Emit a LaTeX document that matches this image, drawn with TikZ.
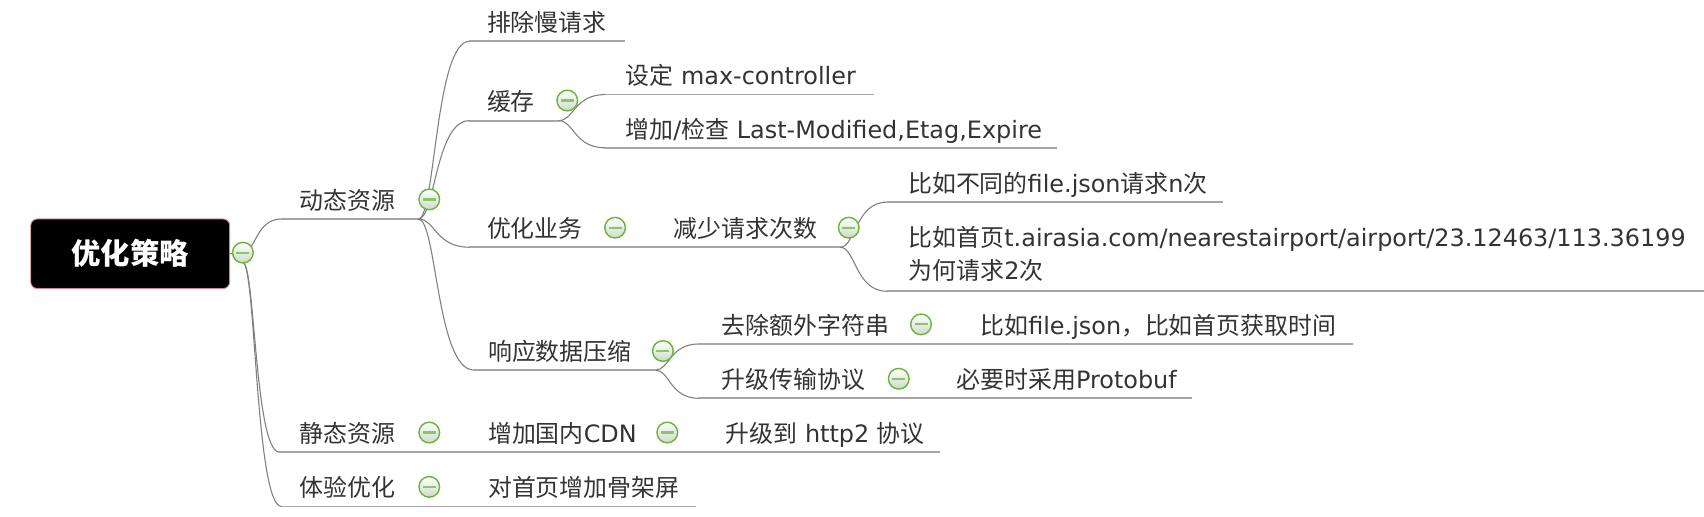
\documentclass[tikz,border=0pt]{standalone}
\usepackage{fontspec}
\setmainfont{DejaVu Sans}
\newfontfamily\cjk{Noto Sans CJK SC}
\usetikzlibrary{calc}
\definecolor{textc}{HTML}{333333}
\definecolor{ulc}{HTML}{A6A6A6}
\definecolor{connc}{HTML}{808080}
\definecolor{ringc}{HTML}{6AB43C}
\definecolor{dashc}{HTML}{86C866}
\definecolor{togbot}{HTML}{CFD9CA}
\definecolor{rootborder}{HTML}{D9848C}
\newcommand\curveconn[2]{\draw[conn] let \p1=(#1), \p2=(#2), \n1={0.33*(\x2-\x1)} in (\p1) .. controls (\x1+\n1,\y1) and (\x1+\n1,\y2) .. (\p2);}
\tikzset{
  txt/.style={anchor=base west, inner sep=0pt, text=textc, font=\fontsize{22}{30.5}\selectfont},
  uline/.style={draw=ulc, line width=1.6pt},
  conn/.style={draw=connc, line width=1pt},
  togg/.style={circle, minimum size=19pt, inner sep=0pt, draw=ringc, line width=1.3pt,
    top color=white, bottom color=togbot,
    path picture={\draw[dashc, line width=2pt] ($(path picture bounding box.center)+(-6,0)$) -- ($(path picture bounding box.center)+(6,0)$);}},
  rootbox/.style={draw=rootborder, fill=black, rounded corners=6pt, line width=0.8pt,
    minimum width=183pt, minimum height=64pt, inner sep=0pt, text=white,
    font=\fontsize{27}{27}\selectfont},
}
\begin{document}
\begin{tikzpicture}[x=1pt,y=-1pt]
\useasboundingbox (0,0) rectangle (1568,475);
% root
\node[rootbox] (root) at (119.8,233.5) {\cjk\bfseries 优化策略};
% coordinates of underlines
\coordinate (A1) at (259,201.5);   \coordinate (A2) at (385,201.5);
\coordinate (Aa1) at (432,38);     \coordinate (Aa2) at (575,38);
\coordinate (Ab1) at (432,111);    \coordinate (Ab2) at (514,111);
\coordinate (Aba1) at (557,87);    \coordinate (Aba2) at (804,87);
\coordinate (Abb1) at (557,136);   \coordinate (Abb2) at (973,136);
\coordinate (Ac1) at (432,227.5);  \coordinate (Ac2) at (558,227.5);
\coordinate (Aca1) at (603,227.5); \coordinate (Aca2) at (773,227.5);
\coordinate (Acaa1) at (816,186);  \coordinate (Acaa2) at (1125,186);
\coordinate (Acab1) at (816,268);  \coordinate (Acab2) at (1568,268);
\coordinate (Ad1) at (436,340.5);  \coordinate (Ad2) at (603,340.5);
\coordinate (Ada1) at (643,316.5); \coordinate (Ada2) at (840,316.5);
\coordinate (Adaa1) at (885,316.5);\coordinate (Adaa2) at (1245,316.5);
\coordinate (Adb1) at (643,366.5); \coordinate (Adb2) at (819,366.5);
\coordinate (Adba1) at (864,366.5);\coordinate (Adba2) at (1097,366.5);
\coordinate (B1) at (257,416);     \coordinate (B2) at (387,416);
\coordinate (Ba1) at (432,416);    \coordinate (Ba2) at (606,416);
\coordinate (Baa1) at (651,416);   \coordinate (Baa2) at (865,416);
\coordinate (D1) at (259,466);     \coordinate (D2) at (387,466);
\coordinate (Da1) at (432,466);    \coordinate (Da2) at (640.5,466);
% toggle circles (positions)
\coordinate (pc) at (223.5,232.5);
% texts
\node[txt] (tA) at (275.6,192.5) {\cjk 动态资源};
\node[txt] (tAa) at (448,29) {\cjk 排除慢请求};
\node[txt] (tAb) at (448,102) {\cjk 缓存};
\node[txt] (tAba) at (575.5,78) {{\cjk 设定} max-controller};
\node[txt] (tAbb) at (575.5,127) {{\cjk 增加}/{\cjk 检查} Last-Modified,Etag,Expire};
\node[txt] (tAc) at (448,218.5) {\cjk 优化业务};
\node[txt] (tAca) at (619.5,218.5) {\cjk 减少请求次数};
\node[txt] (tAcaa) at (835.5,177) {{\cjk 比如不同的}file.json{\cjk 请求}n{\cjk 次}};
\node[txt, align=left, anchor=north west] (tAcab) at (836,208) {{\cjk 比如首页}t.airasia.com/nearestairport/airport/23.12463/113.36199\\{\cjk 为何请求}2{\cjk 次}};
\node[txt] (tAd) at (449,331.5) {\cjk 响应数据压缩};
\node[txt] (tAda) at (664,307.5) {\cjk 去除额外字符串};
\node[txt] (tAdaa) at (902,307.5) {{\cjk 比如}file.json{\cjk ，比如首页获取时间}};
\node[txt] (tAdb) at (664,357.5) {\cjk 升级传输协议};
\node[txt] (tAdba) at (880,357.5) {{\cjk 必要时采用}Protobuf};
\node[txt] (tB) at (275.6,407) {\cjk 静态资源};
\node[txt] (tBa) at (449,407) {{\cjk 增加国内}CDN};
\node[txt] (tBaa) at (667.6,407) {{\cjk 升级到} http2 {\cjk 协议}};
\node[txt] (tD) at (275.6,457) {\cjk 体验优化};
\node[txt] (tDa) at (449,457) {\cjk 对首页增加骨架屏};
% underlines
\foreach \n in {A,Aa,Ab,Aba,Abb,Ac,Aca,Acaa,Acab,Ad,Ada,Adaa,Adb,Adba,B,Ba,Baa,D,Da}
  {\draw[uline] (\n1) -- (\n2);}
% straight same-level joins
\draw[uline] (Ac2) -- (Aca1);
\draw[uline] (Ada2) -- (Adaa1);
\draw[uline] (Adb2) -- (Adba1);
\draw[uline] (B2) -- (Ba1);
\draw[uline] (Ba2) -- (Baa1);
\draw[uline] (D2) -- (Da1);
% root connectors
\draw[conn] (root.east) -- (pc);
\curveconn{pc}{A1}
\curveconn{$(pc)+(0,9)$}{B1}
\curveconn{$(pc)+(0,9)$}{D1}
% branch connectors
\curveconn{A2}{Aa1}
\curveconn{A2}{Ab1}
\curveconn{A2}{Ac1}
\curveconn{A2}{Ad1}
\curveconn{Ab2}{Aba1}
\curveconn{Ab2}{Abb1}
\curveconn{Aca2}{Acaa1}
\curveconn{Aca2}{Acab1}
\curveconn{Ad2}{Ada1}
\curveconn{Ad2}{Adb1}
% toggles
\node[togg] (rc) at (pc) {};
\node[togg] (cA) at (395,183.5) {};
\node[togg] (cAb) at (522,92.5) {};
\node[togg] (cAc) at (566,209.5) {};
\node[togg] (cAca) at (781,209.5) {};
\node[togg] (cAd) at (610,323) {};
\node[togg] (cAda) at (847.5,298.5) {};
\node[togg] (cAdb) at (827,348.5) {};
\node[togg] (cB) at (395,398) {};
\node[togg] (cBa) at (614,398) {};
\node[togg] (cD) at (395,448) {};
\end{tikzpicture}
\end{document}
